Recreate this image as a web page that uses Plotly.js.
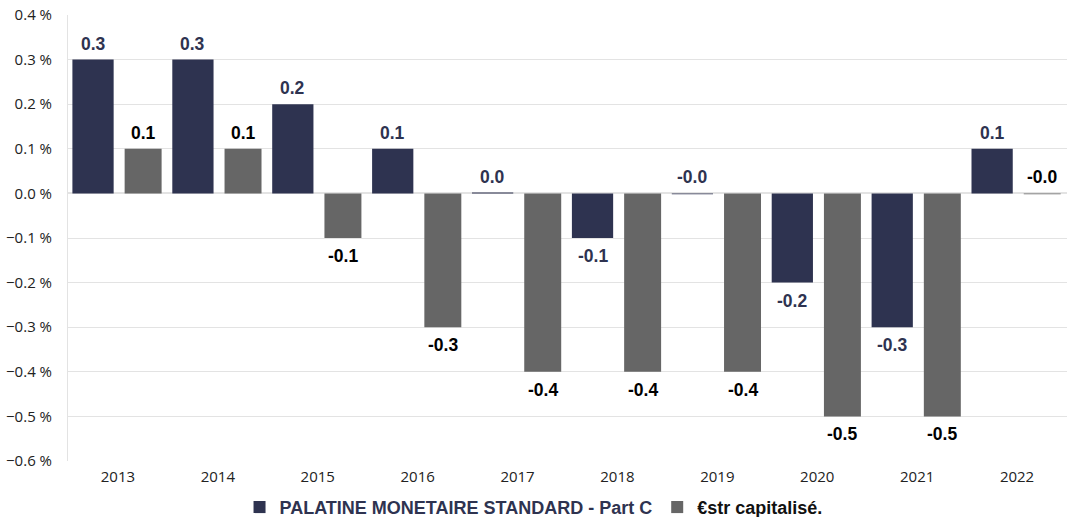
<!DOCTYPE html>
<html>
<head>
<meta charset="utf-8">
<script src="https://cdn.plot.ly/plotly-3.0.1.min.js"></script>
<style>html,body{margin:0;padding:0;background:#fff;}#chart{width:1067px;height:517px;}</style>
</head>
<body>
<div id="chart"></div>
<script>
const years = ['2013','2014','2015','2016','2017','2018','2019','2020','2021','2022'];
const fundName = 'PALATINE MONETAIRE STANDARD - Part C';
const benchName = '€str capitalisé.';
const fundValues = [0.3, 0.3, 0.2, 0.1, 0.002, -0.1, -0.002, -0.2, -0.3, 0.1];
const benchValues = [0.1, 0.1, -0.1, -0.3, -0.4, -0.4, -0.4, -0.5, -0.5, -0.002];

const navy = '#2e3350';
const grey = '#666666';
const idx = years.map((_, i) => i);

const fundOffset = -0.456, fundWidth = 0.413;
const benchOffset = 0.067, benchWidth = 0.37;

function labels(values, offset, width, color) {
  return values.map((v, i) => {
    const txt = v.toFixed(1);
    const up = v >= 0 || Math.abs(v) < 0.05;
    return {
      x: i + offset + width / 2, y: up ? Math.max(v, 0) : v,
      xref: 'x', yref: 'y', text: '<b>' + txt + '</b>', showarrow: false,
      yanchor: 'middle', xanchor: 'center', yshift: up ? 16 : -18,
      font: {family: 'Liberation Sans, Arial, sans-serif', size: 17.5, color: color}
    };
  });
}

const data = [
  {type: 'bar', x: idx, y: fundValues, name: '<b><span style="color:' + navy + '">' + fundName + '</span></b>',
   marker: {color: navy}, offset: fundOffset, width: fundWidth, hoverinfo: 'y'},
  {type: 'bar', x: idx, y: benchValues, name: '<b><span style="color:#111">' + benchName + '</span></b>',
   marker: {color: grey}, offset: benchOffset, width: benchWidth, hoverinfo: 'y'}
];

const layout = {
  width: 1067, height: 517,
  margin: {l: 68, r: 0, t: 15, b: 56, autoexpand: false},
  paper_bgcolor: '#ffffff', plot_bgcolor: '#ffffff',
  barmode: 'overlay',
  showlegend: true,
  legend: {orientation: 'h', x: 0.466, xanchor: 'center', y: -0.104, yanchor: 'middle',
    itemwidth: 30, tracegroupgap: 0,
    font: {family: 'Liberation Sans, Arial, sans-serif', size: 18, color: '#111'}, traceorder: 'normal'},
  xaxis: {range: [-0.5, 9.5], tickmode: 'array', tickvals: idx, ticktext: years,
    showgrid: false, zeroline: false, showline: false, ticks: '', ticklabelstandoff: 5,
    tickfont: {family: 'Open Sans, sans-serif', size: 15, color: '#222'}},
  yaxis: {range: [-0.6, 0.4], dtick: 0.1, tick0: 0, tickformat: '.1f', ticksuffix: ' %',
    showgrid: true, gridcolor: '#e3e3e3', gridwidth: 1,
    zeroline: true, zerolinecolor: '#e3e3e3', zerolinewidth: 2,
    showline: true, linecolor: '#e3e3e3', linewidth: 1, ticks: '', ticklabelstandoff: 12,
    tickfont: {family: 'Open Sans, sans-serif', size: 15, color: '#222'}},
  annotations: labels(fundValues, fundOffset, fundWidth, navy).concat(labels(benchValues, benchOffset, benchWidth, '#000000'))
};

Plotly.newPlot('chart', data, layout, {displayModeBar: false, staticPlot: true});
</script>
</body>
</html>
